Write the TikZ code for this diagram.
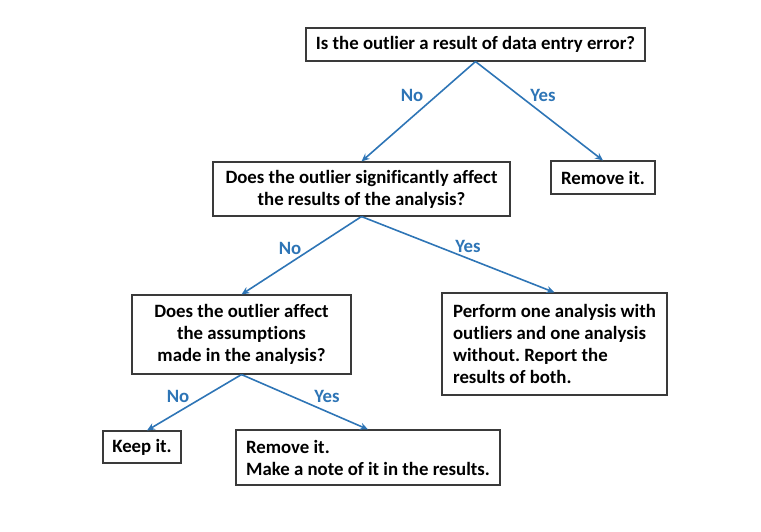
\documentclass[tikz,border=0pt]{standalone}
\usepackage{fontspec}
\setmainfont[Ligatures=NoCommon]{Carlito}
\usetikzlibrary{arrows.meta,calc}
\definecolor{lblue}{HTML}{2E75B6}
\definecolor{boxline}{HTML}{3A3A3A}
\frenchspacing
\begin{document}
\begin{tikzpicture}[x=1pt,y=-1pt,
  font=\fontsize{18.8}{22}\selectfont\bfseries,
  box/.style={draw=boxline,line width=1.1pt,fill=white,inner sep=0pt,align=center},
  lbox/.style={box,align=left},
  conn/.style={draw=lblue,line width=1.6pt,-{Stealth[length=8pt,width=7pt]}},
  lab/.style={text=lblue,inner sep=0pt}]
\useasboundingbox (0,0) rectangle (761,531);
\node[box,minimum width=339pt,minimum height=33pt] (b1) at (475.5,44.5) {Is the outlier a result of data entry error?};
\node[box,minimum width=297pt,minimum height=54pt] (b2) at (361.5,189) {Does the outlier significantly affect\\the results of the analysis?};
\node[box,minimum width=104pt,minimum height=33pt] (r1) at (603,177.5) {Remove it.};
\node[box,minimum width=219pt,minimum height=79pt] (b3) at (241.5,334.5) {Does the outlier affect\\the assumptions\\made in the analysis?};
\node[lbox,minimum width=225pt,minimum height=102pt] (pf) at (554.5,344) {Perform one analysis with\\outliers and one analysis\\without. Report the\\results of both.};
\node[box,minimum width=78pt,minimum height=32pt] (kp) at (142,447) {Keep it.};
\node[lbox,minimum width=264pt,minimum height=55pt] (r2) at (368,457.5) {Remove it.\\Make a note of it in the results.};
\coordinate (kpin) at ($(kp.north)+(5,0)$);
\draw[conn] (b1.south) -- (b2.north);
\draw[conn] (b1.south) -- (r1.north);
\draw[conn] (b2.south) -- (b3.north);
\draw[conn] (b2.south) -- (pf.north);
\draw[conn] (b3.south) -- (kpin);
\draw[conn] (b3.south) -- (r2.north);
\node[lab] (n1) at (412,95) {No};
\node[lab] (y1) at (543,95) {Yes};
\node[lab] (n2) at (290,248) {No};
\node[lab] (y2) at (468,246) {Yes};
\node[lab] (n3) at (178,396) {No};
\node[lab] (y3) at (327,396) {Yes};
\end{tikzpicture}
\end{document}
